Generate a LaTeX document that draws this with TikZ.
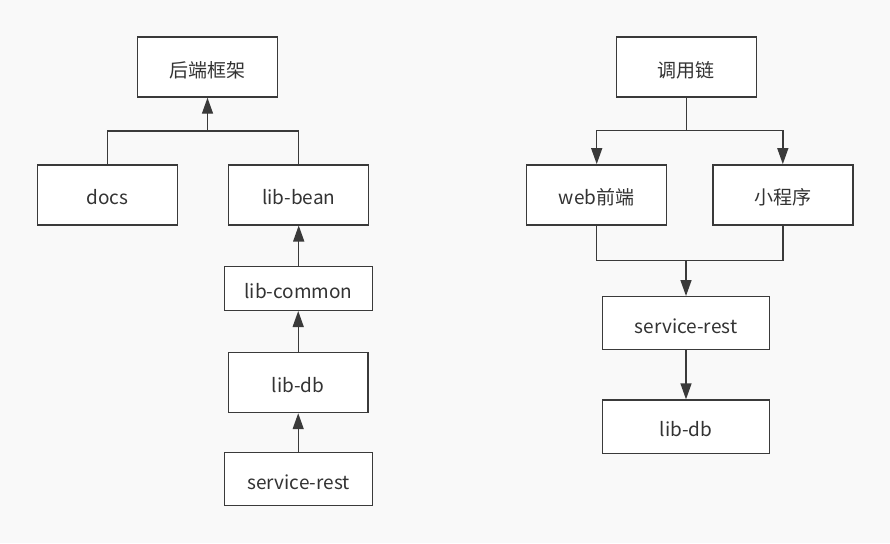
\documentclass[tikz,border=0pt]{standalone}
\usepackage{fontspec}
\setmainfont{Noto Sans CJK SC}
\usetikzlibrary{arrows.meta}

\definecolor{bggray}{HTML}{F9F9F9}
\definecolor{linegray}{HTML}{3A3A3A}
\definecolor{textgray}{HTML}{333333}

\tikzset{
  box/.style={draw=linegray, line width=1.4pt, fill=white, text=textgray,
    minimum width=140pt, minimum height=60pt, inner sep=0pt,
    text height=20pt, text depth=0pt,
    font=\fontsize{19}{21}\selectfont},
  ln/.style={draw=linegray, line width=1.4pt},
  arr/.style={ln, -{Triangle[length=16pt,width=11pt]}}
}

\begin{document}
\begin{tikzpicture}[x=1pt,y=-1pt]

\fill[bggray] (0,0) rectangle (890,543);
\useasboundingbox (0,0) rectangle (890,543);

% left: backend modules
\node[box] (backend) at (207.5,67) {后端框架};
\node[box] (docs) at (107.3,194.8) {docs};
\node[box] (bean) at (298.7,194.8) {lib-bean};
\node[box, minimum width=147.6pt, minimum height=43.6pt] (common) at (298.5,288.5) {lib-common};
\node[box, minimum width=139.7pt] (db) at (298.2,382.5) {lib-db};
\node[box, minimum width=147.6pt, minimum height=53.4pt] (rest) at (298.5,479) {service-rest};

\coordinate (lj) at (207.5,131);

\draw[ln] (docs.north) |- (lj);
\draw[ln] (bean.north) |- (lj);
\draw[arr] (lj) -- (backend.south);

\draw[arr] (common.north -| bean.south) -- (bean.south);
\draw[arr] (db.north) -- (common.south -| db.north);
\draw[arr] (rest.north -| db.south) -- (db.south);

% right: call chain
\node[box] (chain) at (686.3,67) {调用链};
\node[box] (web) at (596.7,194.8) {web前端};
\node[box] (mini) at (782.8,194.8) {小程序};
\node[box, minimum width=167.4pt, minimum height=52.6pt] (srv) at (686,323) {service-rest};
\node[box, minimum width=167.4pt, minimum height=53.3pt] (rdb) at (686,426.7) {lib-db};

\coordinate (rj) at (686.3,130.7);
\coordinate (rk) at (686,260.7);

\draw[ln] (chain.south) -- (rj);
\draw[arr] (rj) -| (web.north);
\draw[arr] (rj) -| (mini.north);

\draw[ln] (web.south) |- (rk);
\draw[ln] (mini.south) |- (rk);
\draw[arr] (rk) -- (srv.north);
\draw[arr] (srv.south) -- (rdb.north);

\end{tikzpicture}
\end{document}
